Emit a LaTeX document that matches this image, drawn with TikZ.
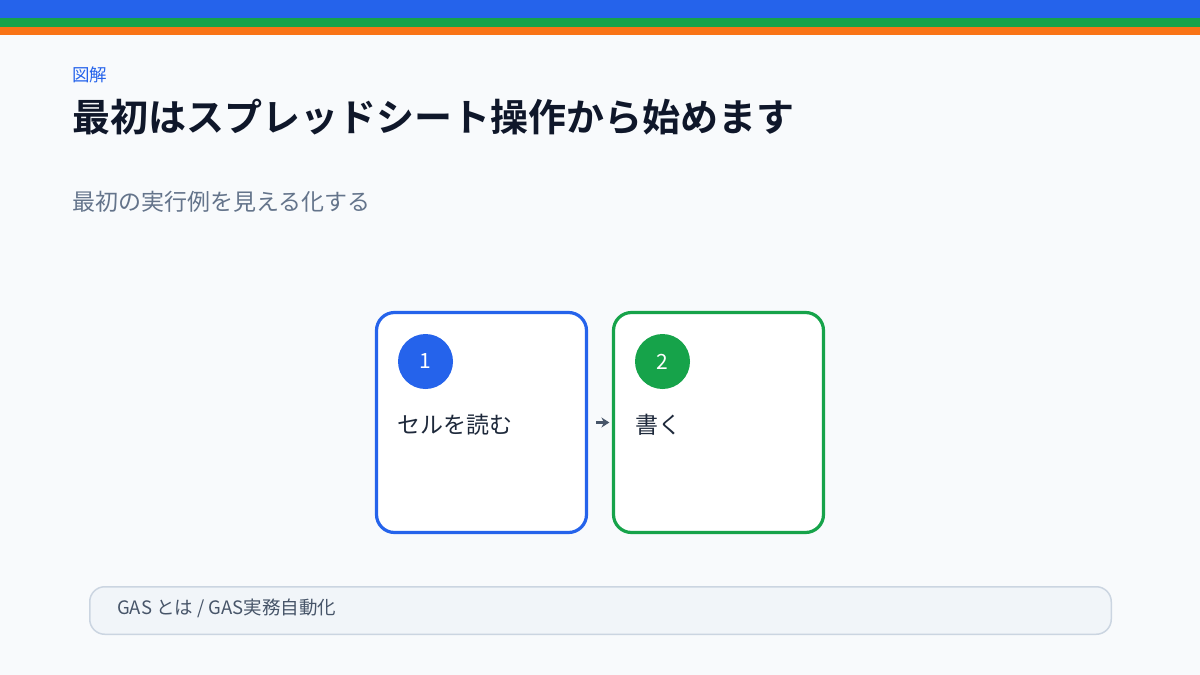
\documentclass[tikz,border=0pt]{standalone}
\usepackage{fontspec}
\setmainfont{Noto Sans CJK JP}[BoldFont={Noto Sans CJK JP Bold}]
\usetikzlibrary{arrows.meta}
\definecolor{bg}{HTML}{F8FAFC}
\definecolor{cblue}{HTML}{2563EB}
\definecolor{cgreen}{HTML}{16A34A}
\definecolor{corange}{HTML}{F97316}
\definecolor{ctitle}{HTML}{0F172A}
\definecolor{csub}{HTML}{64748B}
\definecolor{ctext}{HTML}{1E293B}
\definecolor{cfoot}{HTML}{475569}
\definecolor{cfootfill}{HTML}{F1F5F9}
\definecolor{cfootline}{HTML}{CBD5E1}
\tikzset{
  card/.style={draw=#1, line width=3.2pt, fill=white, rounded corners=18pt,
    minimum width=210pt, minimum height=220pt, inner sep=0pt},
  badge/.style={circle, fill=#1, minimum size=55pt, inner sep=0pt,
    text=white, font=\fontsize{21}{25}\selectfont},
  cardtext/.style={anchor=west, inner sep=0pt, text=ctext, font=\fontsize{23}{28}\selectfont},
  lbl/.style={anchor=west, inner sep=0pt},
}
\begin{document}
\begin{tikzpicture}[x=1pt,y=-1pt]
\useasboundingbox (0,0) rectangle (1200,675);
\fill[bg] (0,0) rectangle (1200,675);
\fill[cblue] (0,0) rectangle (1200,18);
\fill[cgreen] (0,18) rectangle (1200,27);
\fill[corange] (0,27) rectangle (1200,35);

\node[lbl, text=cblue, font=\fontsize{17.5}{21}\selectfont] (kicker) at (72,75) {図解};
\node[lbl, text=ctitle, font=\fontsize{38}{46}\selectfont\bfseries] (title) at (72,117) {最初はスプレッドシート操作から始めます};
\node[lbl, text=csub, font=\fontsize{23}{28}\selectfont] (sub) at (72,202) {最初の実行例を見える化する};

\node[card=cblue] (b1) at (481.5,422.5) {};
\node[card=cgreen] (b2) at (718.5,422.5) {};
\node[badge=cblue] (n1) at (425.5,361.5) {1};
\node[badge=cgreen] (n2) at (662.5,361.5) {2};
\node[cardtext] (t1) at (397,425) {セルを読む};
\node[cardtext] (t2) at (635,425) {書く};

\draw[draw=cfoot, line width=2.5pt, -{Stealth[length=8pt,width=10pt]}, shorten <=8pt, shorten >=2.5pt] (b1.east) -- (b2.west);

\node[draw=cfootline, line width=1.5pt, fill=cfootfill, rounded corners=15pt,
  minimum width=1021.5pt, minimum height=47.5pt, inner sep=0pt] (foot) at (600.5,610.5) {};
\node[lbl, text=cfoot, font=\fontsize{18.5}{22}\selectfont] (ft) at (117,608) {GAS とは / GAS実務自動化};
\end{tikzpicture}
\end{document}
